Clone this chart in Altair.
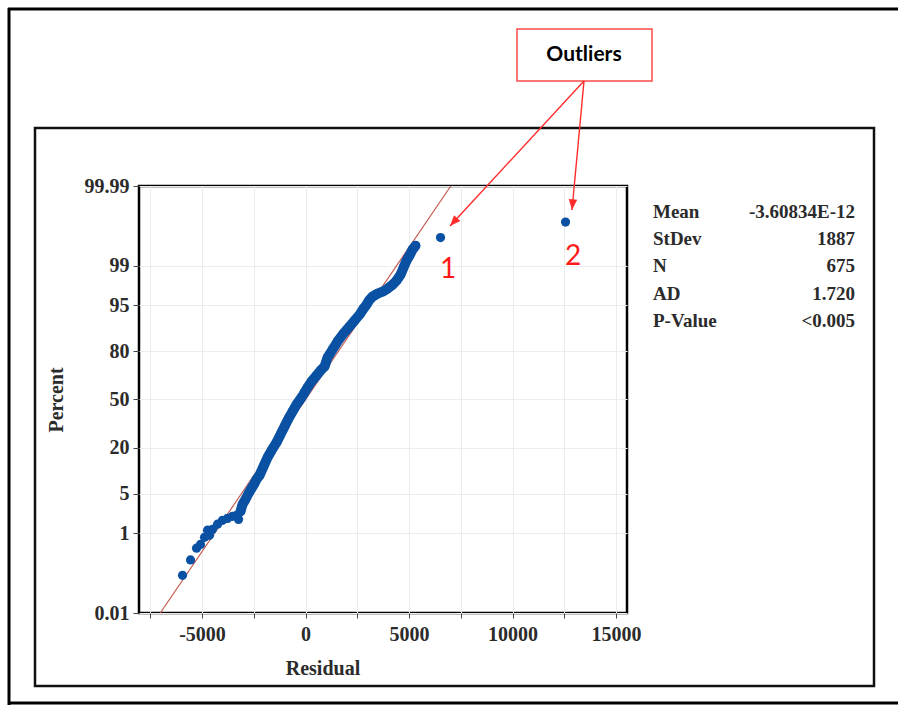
import math
from statistics import NormalDist

import altair as alt
import pandas as pd

# ---------------- data ----------------
residual = [-5942, -5556, -5266, -5073, -4879, -4734, -4638, -4493, -4251, -4010,
            -3768, -3527, -3333, -3237, -3140, -3044, -2899, -2754, -2609, -2464,
            -2367, -2222, -2029, -1836, -1643, -1401, -1208, -1015, -821, -628,
            -435, -193, -48, 97, 290, 531, 725, 918, 1063, 1304,
            1546, 1836, 2126, 2367, 2609, 2802, 2947, 3092, 3237, 3478,
            3720, 3961, 4203, 4396, 4589, 4734, 4831, 4928, 5024, 5169,
            5314, 6522, 12561]
percent = [0.11, 0.26, 0.48, 0.58, 0.82, 1.14, 0.90, 1.19, 1.49, 1.77,
           1.92, 2.09, 2.18, 1.84, 2.57, 3.39, 4.10, 5.10, 6.08, 7.20,
           8.21, 9.31, 12.20, 15.65, 18.76, 22.73, 27.14, 31.93, 37.06, 41.73,
           46.53, 51.39, 54.84, 58.27, 62.29, 66.18, 69.29, 71.70, 76.73, 80.78,
           84.35, 87.45, 89.79, 91.53, 93.03, 94.33, 95.07, 95.90, 96.34, 96.74,
           96.98, 97.32, 97.72, 98.08, 98.51, 98.92, 99.14, 99.29, 99.39, 99.55,
           99.63, 99.76, 99.90]

fit_residual = [-7018, 7018]
fit_percent = [0.01, 99.99]

y_tick_percent = [0.01, 1, 5, 20, 50, 80, 95, 99, 99.99]
y_tick_labels = ["0.01", "1", "5", "20", "50", "80", "95", "99", "99.99"]
x_tick_values = [-7500, -5000, -2500, 0, 2500, 5000, 7500, 10000, 12500, 15000]

stat_names = ["Mean", "StDev", "N", "AD", "P-Value"]
stat_values = ["-3.60834E-12", "1887", "675", "1.720", "<0.005"]

outlier_labels = ["1", "2"]
callout_text = "Outliers"

# ---------------- layout ----------------
PL, PT, PW, PH = 139, 186, 488, 427
W, H = 898, 705
X_DOMAIN = [-8045, 15530]

nd = NormalDist()
def probit(p):
    return nd.inv_cdf(p / 100.0)

Z_DOMAIN = [probit(0.01), probit(99.99)]

df = pd.DataFrame({"residual": residual, "percent": percent})
df["z"] = [probit(p) for p in percent]
fit = pd.DataFrame({"residual": fit_residual, "percent": fit_percent})
fit["z"] = [probit(p) for p in fit_percent]

y_tick_z = [probit(p) for p in y_tick_percent]
expr = "''"
for z, lab in reversed(list(zip(y_tick_z, y_tick_labels))):
    expr = f"abs(datum.value - ({z:.6f})) < 0.0001 ? '{lab}' : " + expr

SERIF = "Liberation Serif"
TXT = "#2b2b2b"
BLUE = "#0a51a3"
RED = "#ff2b2b"

xs = alt.X("residual:Q",
           scale=alt.Scale(domain=X_DOMAIN, nice=False, zero=False),
           axis=alt.Axis(values=x_tick_values, title=None, domain=False,
                         labelExpr="datum.value % 5000 == 0 ? '' + datum.value : ''",
                         tickSize=5, tickColor="#444", labelPadding=6,
                         labelFont=SERIF, labelFontWeight="bold", labelFontSize=20,
                         labelColor=TXT, labelOverlap=False, labelFlush=False,
                         grid=True, gridColor="#ececec"))
ys = alt.Y("z:Q",
           scale=alt.Scale(domain=Z_DOMAIN, nice=False, zero=False),
           axis=alt.Axis(values=y_tick_z, title=None, domain=False,
                         labelExpr=expr, tickSize=6, tickColor="#444",
                         labelPadding=4, labelFont=SERIF, labelFontWeight="bold",
                         labelFontSize=20, labelColor=TXT, labelOverlap=False,
                         labelFlush=False, grid=True, gridColor="#ececec"))

fit_line = alt.Chart(fit).mark_line(color="#c25a52", strokeWidth=1.2).encode(x=xs, y=ys)

band = alt.Chart(df).transform_filter(
    "datum.percent >= 2.5 && datum.residual < 6000"
).mark_line(color=BLUE, strokeWidth=10, strokeCap="round", strokeJoin="round").encode(
    x="residual:Q", y="z:Q")

pts = alt.Chart(df).mark_point(filled=True, shape="circle", size=85,
                               color=BLUE, opacity=1).encode(x="residual:Q", y="z:Q")

one = pd.DataFrame({"k": [0]})

def px(v):
    return v - PL

def py(v):
    return v - PT

def rect(x1, y1, x2, y2, **kw):
    return alt.Chart(one).mark_rect(**kw).encode(
        x=alt.value(px(x1)), x2=alt.value(px(x2)),
        y=alt.value(py(y1)), y2=alt.value(py(y2)))

def rule(x1, y1, x2, y2, **kw):
    return alt.Chart(one).mark_rule(**kw).encode(
        x=alt.value(px(x1)), x2=alt.value(px(x2)),
        y=alt.value(py(y1)), y2=alt.value(py(y2)))

def text(t, x, y, **kw):
    return alt.Chart(one).mark_text(text=t, **kw).encode(
        x=alt.value(px(x)), y=alt.value(py(y)))

# outer frame: left, top, bottom (right side runs off the picture)
outer = [rule(9, 8, 9, 705, color="black", strokeWidth=3),
         rule(8, 9, 898, 9, color="black", strokeWidth=3),
         rule(8, 703, 898, 703, color="black", strokeWidth=3)]
inner = rect(35, 128, 874, 686, fill="white", fillOpacity=0, stroke="#111", strokeWidth=2.5)
callbox = rect(517, 29, 652, 81, fill="white", stroke="#ff4a4a", strokeWidth=1.5)

layers = outer + [inner, fit_line, band, pts, callbox,
          text(callout_text, 584, 55, font="Lato", fontWeight="bold", fontSize=21,
               color="black", align="center", baseline="middle")]

start = (584, 81)
tips = [(450, 226), (572, 210)]
for tx, ty in tips:
    layers.append(alt.Chart(one).mark_rule(color=RED, strokeWidth=1.4).encode(
        x=alt.value(px(start[0])), y=alt.value(py(start[1])),
        x2=alt.value(px(tx)), y2=alt.value(py(ty))))
    ang = math.degrees(math.atan2(ty - start[1], tx - start[0])) + 90
    layers.append(alt.Chart(one).mark_point(
        shape="M0,0 L-0.4,1 L0.4,1 Z", filled=True, size=450, angle=ang % 360,
        color=RED, opacity=1).encode(x=alt.value(px(tx)), y=alt.value(py(ty))))

layers.append(text(outlier_labels[0], 448, 270, font="Lato", fontSize=28, color="#ff1a1a",
                   align="center", baseline="middle"))
layers.append(text(outlier_labels[1], 573, 257, font="Lato", fontSize=28, color="#ff1a1a",
                   align="center", baseline="middle"))

for i, (n, v) in enumerate(zip(stat_names, stat_values)):
    yy = 212 + i * 27.2
    layers.append(text(n, 653, yy, font=SERIF, fontWeight="bold", fontSize=19,
                       color=TXT, align="left", baseline="middle"))
    layers.append(text(v, 855, yy, font=SERIF, fontWeight="bold", fontSize=19,
                       color=TXT, align="right", baseline="middle"))

layers.append(text("Percent", 57, 400, font=SERIF, fontWeight="bold", fontSize=20,
                   color=TXT, align="center", baseline="middle", angle=270))
layers.append(text("Residual", 323, 669, font=SERIF, fontWeight="bold", fontSize=20,
                   color=TXT, align="center", baseline="middle"))

chart = alt.layer(*layers).properties(
    width=PW, height=PH,
    autosize=alt.AutoSizeParams(type="none"),
    padding={"left": PL, "top": PT, "right": W - PL - PW, "bottom": H - PT - PH},
    background="white",
).configure_view(stroke="black", strokeWidth=2.5, fill="white")

chart.save("out.html", embed_options={"renderer": "svg", "actions": False})
